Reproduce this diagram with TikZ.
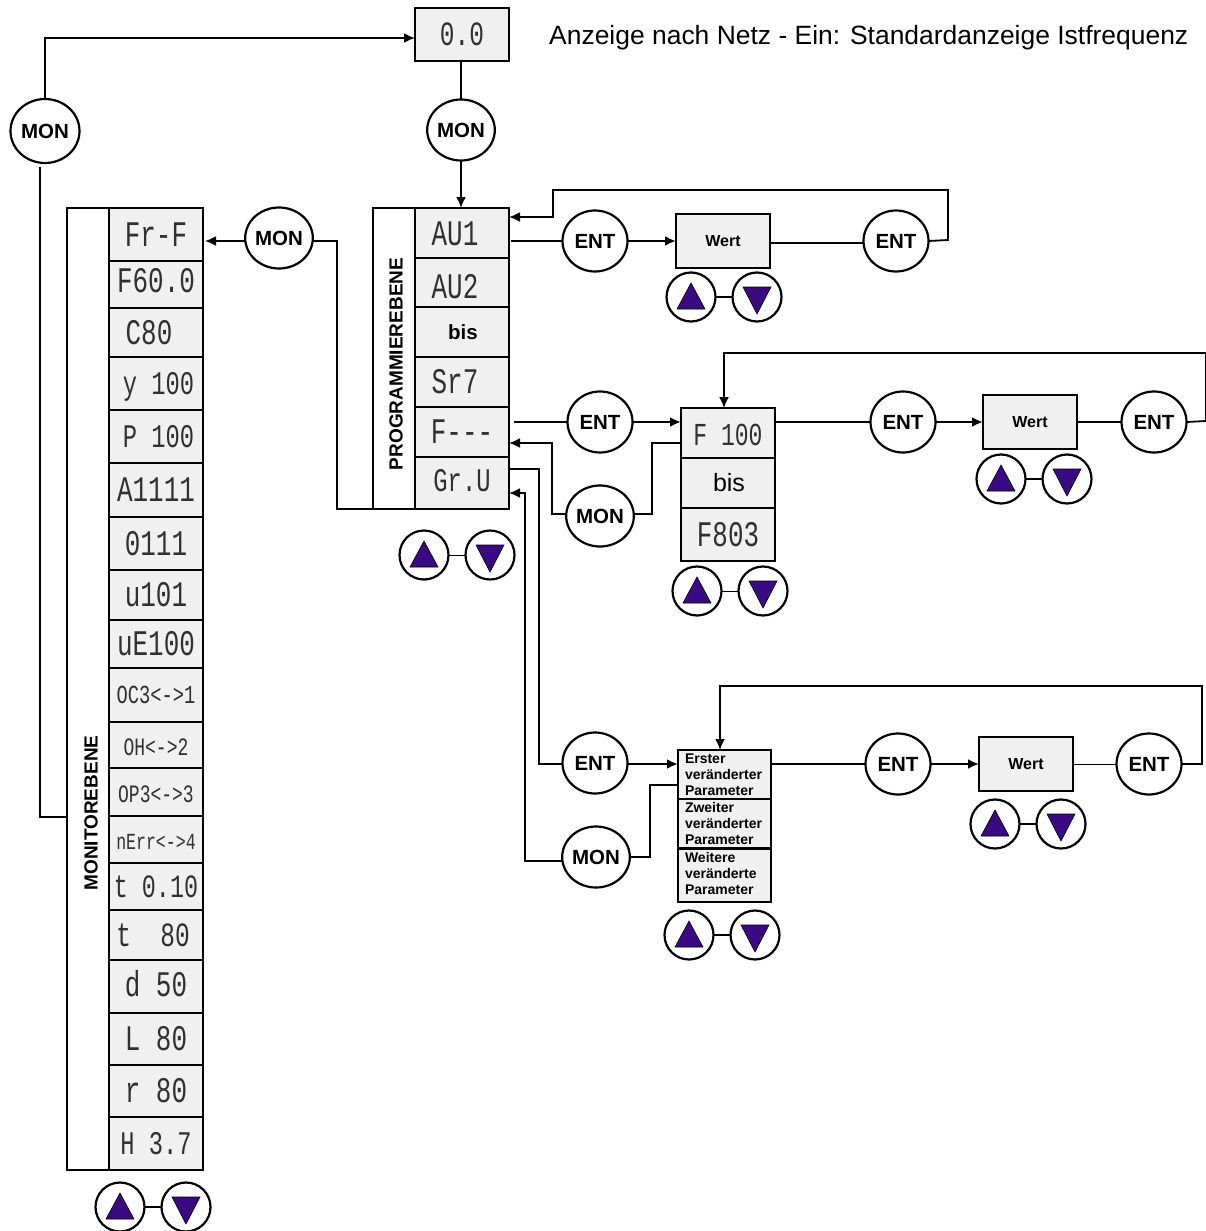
\documentclass[tikz,border=0pt]{standalone}
\usepackage{fontspec}
\setmainfont{Liberation Sans}
\newfontfamily\lcdface[FakeStretch=0.72]{Liberation Mono}
\usetikzlibrary{arrows.meta,shapes.geometric}
\definecolor{cellgray}{HTML}{F0F0F0}
\definecolor{btnpurple}{HTML}{3A0A85}
\definecolor{lcdink}{HTML}{303030}
\tikzset{
  x=1pt,y=-1pt,
  box/.style={draw=black,line width=2.2pt,fill=cellgray,inner sep=0pt,outer sep=0pt,anchor=north west,align=center},
  cellb/.style={box,minimum width=94pt},
  strip/.style={draw=black,line width=2.2pt,fill=white,inner sep=0pt,outer sep=0pt,anchor=north west},
  oval/.style={ellipse,draw=black,line width=2.2pt,fill=white,inner sep=0pt,outer sep=0pt,minimum width=65pt,minimum height=61pt,font=\fontsize{20.5}{22}\selectfont\bfseries},
  btn/.style={circle,draw=black,line width=2.2pt,fill=white,minimum size=49pt,inner sep=0pt,outer sep=0pt},
  thickline/.style={line width=2.6pt},
  thinline/.style={line width=1.8pt},
  arrowline/.style={line width=1.8pt,-{Latex[length=11pt,width=10pt]}},
  arrowthick/.style={line width=2.4pt,-{Latex[length=11pt,width=10pt]}},
  tri/.style={fill=btnpurple,draw=black,line width=0.6pt},
  wert/.style={cellb,minimum height=54pt,font=\fontsize{16}{18}\selectfont\bfseries},
  param/.style={box,minimum width=93pt,text width=79pt,align=left,font=\fontsize{14}{16}\selectfont\bfseries},
}
% display text: optional vertical offset, size, text; the strut keeps capitals centred in the cell
\newcommand{\lcd}[3][0pt]{{\fontsize{#2}{#2}\lcdface\color{lcdink}\rule[-0.14em]{0pt}{0.94em}\smash{\raisebox{#1}{#3}}}}
\newcommand{\keypair}[5]{%
  \node[btn] (#1u) at (#2,#4) {};
  \node[btn] (#1d) at (#3,#4) {};
  \fill[tri] (#2,#4) +(-14,12) -- +(14,12) -- +(0,-14) -- cycle;
  \fill[tri] (#3,#4) +(-14,-10) -- +(14,-10) -- +(0,17) -- cycle;
  \draw[line width=#5] (#1u) -- (#1d);
}
\newcommand{\cellat}[5]{\node[cellb,minimum height=#4pt] (#1) at (#2,#3) {#5};}
\begin{document}
\begin{tikzpicture}
\useasboundingbox (0,0) rectangle (1206,1231);
\fill[white] (0,0) rectangle (1206,1231);

% top
\node[cellb,minimum height=53pt] (top) at (415,8) {\lcd{34}{0.0}};
\node[anchor=west,inner sep=0pt,font=\fontsize{26.45}{28}\selectfont] (title) at (549,38) {Anzeige nach Netz - Ein: Standardanzeige Istfrequenz};
\node[oval,minimum width=69pt,minimum height=64pt] (monL) at (45,131) {MON};
\node[oval,minimum width=67pt] (monC) at (461,130) {MON};
\node[oval,minimum width=67pt] (monM) at (279,238) {MON};

% Monitorebene
\node[strip,minimum width=42pt,minimum height=962pt] (monlabel) at (67,208) {};
\node[rotate=90,font=\fontsize{19}{20}\selectfont\bfseries] (montxt) at (91,813) {MONITOREBENE};
\cellat{m1}{109}{208}{53}{\lcd{36}{Fr-F}}
\cellat{m2}{109}{261}{47}{\lcd[4pt]{36}{F60.0}}
\cellat{m3}{109}{308}{49}{\hspace*{-14pt}\lcd{36}{C80}}
\cellat{m4}{109}{357}{53}{\hspace*{5pt}\lcd{33}{y 100}}
\cellat{m5}{109}{410}{53}{\hspace*{5pt}\lcd{33}{P 100}}
\cellat{m6}{109}{463}{54}{\lcd{36}{A1111}}
\cellat{m7}{109}{517}{53}{\lcd{36}{0111}}
\cellat{m8}{109}{570}{50}{\lcd{36}{u101}}
\cellat{m9}{109}{620}{48}{\lcd{36}{uE100}}
\cellat{m10}{109}{668}{54}{\lcd{26}{OC3<->1}}
\cellat{m11}{109}{722}{46}{\lcd[-2pt]{25}{OH<->2}}
\cellat{m12}{109}{768}{48}{\lcd[-2pt]{25}{OP3<->3}}
\cellat{m13}{109}{816}{47}{\lcd[-2pt]{23}{nErr<->4}}
\cellat{m14}{109}{863}{47}{\lcd{32.5}{t 0.10}}
\cellat{m15}{109}{910}{50}{\hspace*{-6pt}\lcd{34}{t\ \ 80}}
\cellat{m16}{109}{960}{53}{\lcd[2pt]{36}{d 50}}
\cellat{m17}{109}{1013}{52}{\lcd{36}{L 80}}
\cellat{m18}{109}{1065}{52}{\lcd{36}{r 80}}
\cellat{m19}{109}{1117}{53}{\lcd{33}{H 3.7}}
\keypair{kM}{120}{186}{1207}{2.4pt}

% Programmierebene
\node[strip,minimum width=42pt,minimum height=301pt] (proglabel) at (373,208) {};
\node[rotate=90,font=\fontsize{19}{20}\selectfont\bfseries] (progtxt) at (396,364) {PROGRAMMIEREBENE};
\cellat{p1}{415}{208}{50}{\hspace*{-14pt}\lcd[-1pt]{36}{AU1}}
\cellat{p2}{415}{258}{49}{\hspace*{-14pt}\lcd[-4pt]{36}{AU2}}
\node[cellb,minimum height=50pt,font=\fontsize{20.5}{22}\selectfont\bfseries] (p3) at (415,307) {\hspace*{2pt}bis};
\cellat{p4}{415}{357}{50}{\hspace*{-14pt}\lcd{36}{Sr7}}
\cellat{p5}{415}{407}{50}{\lcd{36}{F---}}
\cellat{p6}{415}{457}{52}{\lcd[2pt]{33}{Gr.U}}
\keypair{kP}{424}{490}{555}{1pt}

% row 1
\node[oval] (e1a) at (595,241) {ENT};
\node[wert] (w1) at (676,214) {Wert};
\node[oval] (e1b) at (896,241) {ENT};
\keypair{k1}{691}{757}{297}{2.4pt}

% row 2
\node[oval] (e2a) at (600,422) {ENT};
\cellat{f1}{681}{408}{50}{\lcd[-2pt]{32}{F 100}}
\node[cellb,minimum height=50pt,font=\fontsize{25}{26}\selectfont] (f2) at (681,458) {\hspace*{2pt}bis};
\cellat{f3}{681}{508}{53}{\lcd{36}{F803}}
\node[oval] (e2b) at (903,422) {ENT};
\node[wert] (w2) at (983,395) {Wert};
\node[oval] (e2c) at (1154,422) {ENT};
\node[oval] (mon2) at (600,516) {MON};
\keypair{k2}{1001}{1067}{479}{2.4pt}
\keypair{k3}{697}{763}{591}{1pt}

% row 3
\node[oval] (e3a) at (595,763) {ENT};
\node[param,minimum height=50pt] (q1) at (678,750) {Erster\\veränderter\\Parameter};
\node[param,minimum height=49pt] (q2) at (678,799) {Zweiter\\veränderter\\Parameter};
\node[param,minimum height=53pt] (q3) at (678,849) {Weitere\\veränderte\\\rule[-4pt]{0pt}{0pt}Parameter};
\node[oval] (e3b) at (898,764) {ENT};
\node[wert] (w3) at (979,737) {Wert};
\node[oval] (e3c) at (1149,764) {ENT};
\node[oval] (mon3) at (596,857) {MON};
\keypair{k4}{995}{1061}{824}{2.4pt}
\keypair{k5}{689}{755}{935}{2.4pt}

% connectors: start-up and monitor level
\draw[arrowline] (monL.north) -- (45,38) -- (top.west |- 0,38);
\draw[thinline] (40,167) -- (40,817) -- (monlabel.west |- 0,817);
\draw[thickline] (monC.north |- top.south) -- (monC.north);
\draw[arrowthick] (monC.south) -- (461,208);
\draw[arrowline,shorten >=2pt] (monM.west |- 0,241) -- (m1.east |- 0,241);
\draw[thinline] (monM.east |- 0,241) -- (337,241) -- (337,509) -- (proglabel.south west);

% connectors: row 1
\draw[thickline,shorten <=2pt] (p1.east |- 0,241) -- (e1a.west);
\draw[arrowthick] (e1a.east) -- (w1.west |- 0,241);
\draw[thickline] (w1.east |- 0,243) -- (e1b.west |- 0,243);
\draw[arrowline] (e1b.east) -- (948,240) -- (948,190) -- (553,190) -- (553,217) -- (p1.east |- 0,217);

% connectors: row 2
\draw[thickline,shorten <=5pt] (p5.east |- 0,422) -- (e2a.west);
\draw[arrowthick] (e2a.east) -- (f1.west |- 0,422);
\draw[thickline] (f1.east |- 0,422) -- (e2b.west);
\draw[arrowthick] (e2b.east) -- (w2.west |- 0,422);
\draw[thickline] (w2.east |- 0,422) -- (e2c.west);
\draw[arrowline] (e2c.east) -- (1206,421) -- (1206,353) -- (724,353) -- (724,408);
\draw[arrowline] (mon2.west |- 0,514) -- (552,514) -- (552,443) -- (p5.east |- 0,443);
\draw[thinline] (mon2.east |- 0,514) -- (652,514) -- (652,443) -- (f1.west |- 0,443);

% connectors: row 3
\draw[thinline] (p6.east |- 0,469) -- (539,469) -- (539,764) -- (e3a.west |- 0,764);
\draw[arrowline] (mon3.west |- 0,861) -- (525,861) -- (525,493) -- (p6.east |- 0,493);
\draw[arrowthick] (e3a.east |- 0,764) -- (q1.west |- 0,764);
\draw[thinline] (mon3.east) -- (650,857) -- (650,785) -- (q1.west |- 0,785);
\draw[thickline] (q1.east |- 0,764) -- (e3b.west);
\draw[arrowthick] (e3b.east) -- (w3.west |- 0,764);
\draw[line width=0.6pt] (w3.east |- 0,764) -- (e3c.west);
\draw[arrowline] (e3c.east) -- (1202,764) -- (1202,686) -- (720,686) -- (720,750);
\end{tikzpicture}
\end{document}
